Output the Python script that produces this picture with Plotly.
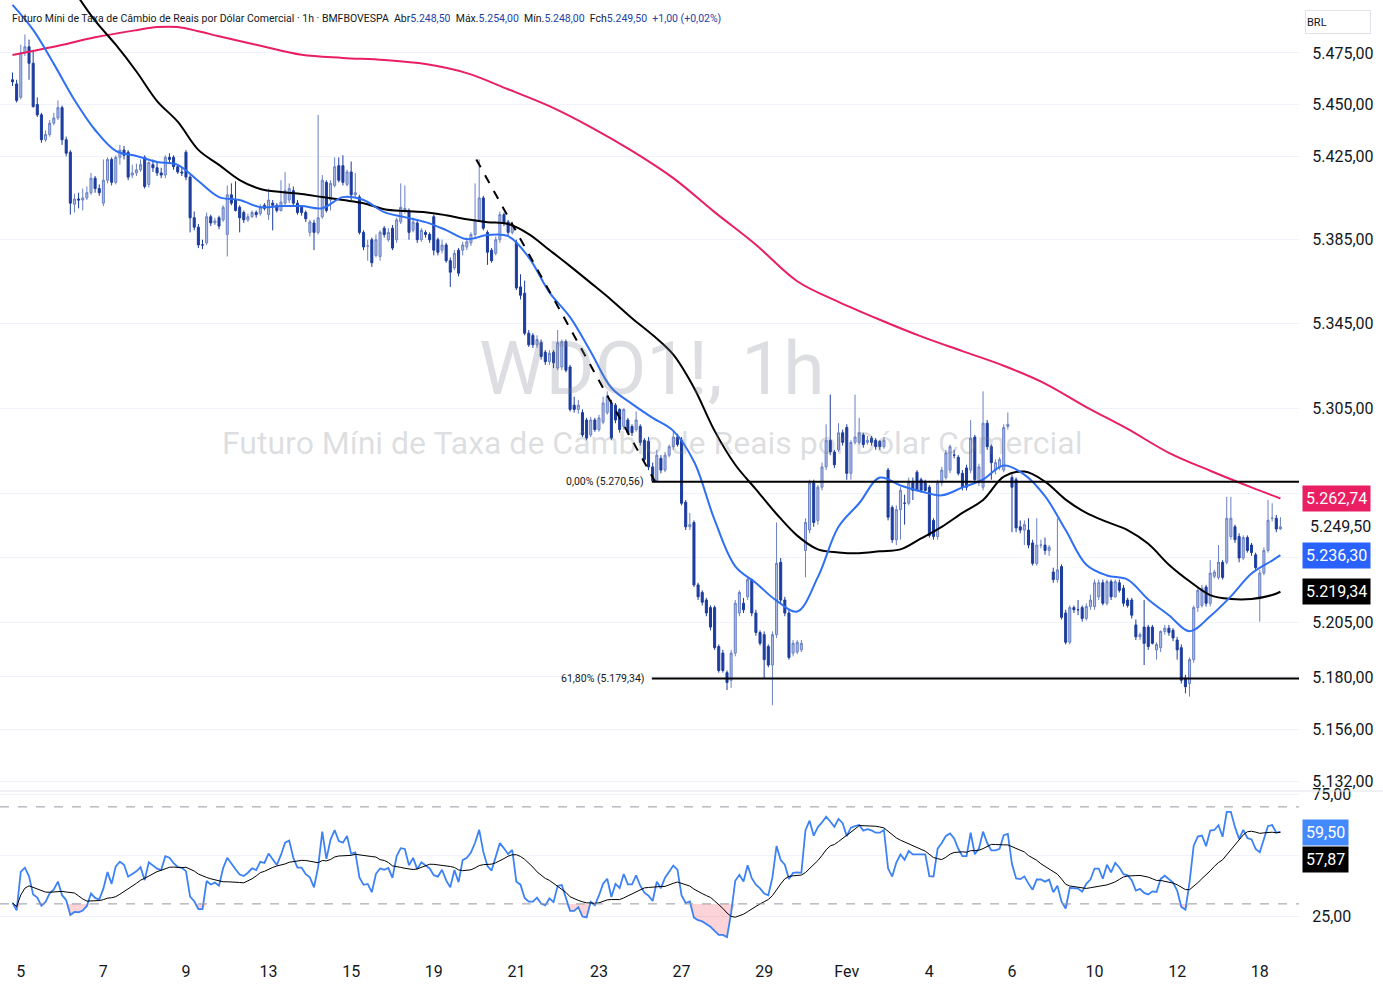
import numpy as np
import pandas as pd
import plotly.graph_objects as go

# ---------------- data (hourly bars, WDO1! 1h) ----------------
OPEN = [
    5462, 5460,
    5453.5, 5475, 5478, 5470, 5450, 5445, 5433, 5435.5, 5441, 5443.5,
    5448.5, 5433, 5427, 5402, 5404.5, 5404, 5405, 5407.5, 5414.5, 5409.5,
    5402.5, 5413.5, 5423.5, 5412.5, 5424.5, 5428, 5427, 5416, 5417, 5418.5,
    5424.5, 5411.5, 5421, 5419.5, 5417, 5416, 5424.5, 5424.5, 5420, 5417.5,
    5427, 5415, 5395.5, 5391, 5382.5, 5383.5, 5396, 5393, 5395.5, 5394.5,
    5387.5, 5406.5, 5404, 5400.5, 5398, 5394.5, 5396, 5398, 5397.5, 5401.5,
    5397, 5402.5, 5401.5, 5399, 5402.5, 5404, 5408.5, 5402.5, 5400.5, 5398,
    5388.5, 5393, 5388.5, 5396, 5412.5, 5404, 5411, 5420.5, 5420.5, 5411.5,
    5417.5, 5406.5, 5405.5, 5388.5, 5382, 5385, 5377.5, 5377, 5390.5, 5385,
    5390.5, 5385, 5393.5, 5398.5, 5399, 5389.5, 5393, 5385, 5388.5, 5387.5,
    5396, 5385, 5380, 5382.5, 5375, 5371.5, 5380, 5380, 5381.5, 5383.5,
    5387.5, 5394.5, 5405, 5388.5, 5380, 5378.5, 5385, 5397, 5393.5, 5388.5,
    5383.5, 5362.5, 5359.5, 5340.5, 5339.5, 5335, 5336, 5331.5, 5327, 5331.5,
    5324, 5324.5, 5336.5, 5324.5, 5306.5, 5304.5, 5303, 5299.5, 5292.5, 5299.5,
    5295, 5298.5, 5303, 5307.5, 5306.5, 5304.5, 5296.5, 5299.5, 5296.5, 5295,
    5296.5, 5290, 5289.5, 5277.5, 5271, 5281.5, 5276, 5283, 5287, 5291.5,
    5290, 5261, 5249.5, 5251.5, 5222.5, 5219, 5215.5, 5212, 5212, 5194,
    5191, 5182, 5178.5, 5191, 5209.5, 5214, 5217, 5225, 5209.5, 5200.5,
    5199.5, 5194, 5185.5, 5199.5, 5233, 5215.5, 5209.5, 5191, 5191.5, 5192.5,
    5238.5, 5248, 5270, 5252.5, 5268, 5277.5, 5290, 5284.5, 5285.5, 5293.5,
    5296, 5274.5, 5289, 5289, 5292.5, 5289, 5291, 5290, 5289.5, 5287,
    5276, 5258.5, 5243.5, 5257.5, 5260.5, 5260.5, 5270, 5275, 5271.5, 5270,
    5268, 5252.5, 5245, 5270, 5272.5, 5276, 5283, 5282, 5274.5, 5277,
    5276, 5291.5, 5270, 5268, 5298, 5287, 5276, 5277.5, 5276, 5296.5,
    5272.5, 5271.5, 5249.5, 5248, 5248, 5242, 5232.5, 5241, 5241, 5238.5,
    5228.5, 5225, 5231, 5209.5, 5196, 5212, 5211, 5212, 5207, 5212.5,
    5212.5, 5217, 5223.5, 5214, 5224, 5217, 5223.5, 5221, 5215.5, 5215.5,
    5204, 5198.5, 5203, 5203, 5203, 5192.5, 5193.5, 5201, 5202.5, 5201.5,
    5197, 5193.5, 5179.5, 5177, 5188, 5212, 5213, 5221.5, 5214, 5226.5,
    5226, 5233, 5233, 5245, 5249.5, 5245, 5235, 5244.5, 5241, 5236.5,
    5217, 5228, 5238.5, 5253.5, 5253.5, 5248.5,
]
HIGH = [
    5465.5, 5462,
    5479, 5484, 5481.5, 5476.5, 5453.5, 5446, 5437.5, 5442.5, 5446, 5452,
    5449.5, 5434.5, 5428, 5407, 5407.5, 5409.5, 5410.5, 5417, 5415.5, 5411.5,
    5423.5, 5424.5, 5424.5, 5425.5, 5430.5, 5430, 5428, 5421, 5421.5, 5423.5,
    5425.5, 5422.5, 5423.5, 5422, 5419.5, 5425.5, 5426.5, 5425.5, 5421, 5419.5,
    5428, 5416, 5398.5, 5392.5, 5385, 5398, 5397, 5395.5, 5396.5, 5401.5,
    5411, 5412, 5413, 5401.5, 5399, 5397.5, 5399, 5399, 5402, 5402.5,
    5409.5, 5404, 5402.5, 5413.5, 5417.5, 5412, 5410.5, 5404, 5401.5, 5399,
    5394.5, 5394.5, 5445, 5416, 5413.5, 5413.5, 5424.5, 5424.5, 5425.5, 5418.5,
    5422.5, 5417, 5406.5, 5389.5, 5385, 5386, 5387.5, 5389.5, 5391.5, 5390.5,
    5392, 5395.5, 5412, 5411, 5400, 5395.5, 5394.5, 5390.5, 5389.5, 5388.5,
    5397, 5386, 5385, 5383.5, 5376.5, 5380, 5381, 5384, 5386, 5388.5,
    5412, 5423.5, 5406, 5389.5, 5381, 5386.5, 5398.5, 5398, 5394.5, 5393.5,
    5385, 5368.5, 5365.5, 5342, 5340.5, 5339.5, 5337.5, 5332.5, 5332.5, 5332.5,
    5342, 5337.5, 5337.5, 5325.5, 5310.5, 5309, 5304.5, 5300.5, 5301, 5300.5,
    5302, 5310.5, 5313, 5309, 5307.5, 5305, 5305, 5300.5, 5297.5, 5303.5,
    5297.5, 5291, 5291.5, 5279.5, 5285.5, 5283, 5284.5, 5288, 5294, 5293,
    5291.5, 5262, 5256, 5252.5, 5223.5, 5220, 5216.5, 5213, 5213, 5195,
    5192.5, 5183, 5192.5, 5215.5, 5220, 5216.5, 5226, 5225.5, 5211, 5201.5,
    5201, 5195, 5201, 5251.5, 5235, 5217, 5211, 5197, 5197, 5197,
    5253.5, 5271.5, 5271.5, 5269, 5279.5, 5297.5, 5311.5, 5285.5, 5298, 5295,
    5297.5, 5290, 5311.5, 5300.5, 5293.5, 5292, 5292, 5291, 5290, 5291.5,
    5277, 5259.5, 5259.5, 5268, 5264.5, 5272.5, 5272.5, 5276, 5272.5, 5271.5,
    5269, 5253.5, 5271.5, 5277.5, 5285.5, 5288, 5285.5, 5283, 5276, 5278.5,
    5299.5, 5292.5, 5279, 5313, 5299.5, 5288, 5281, 5282, 5297.5, 5303,
    5274, 5272.5, 5252.5, 5252.5, 5253.5, 5243.5, 5253.5, 5243.5, 5244.5, 5241,
    5230.5, 5253.5, 5232, 5211, 5213, 5213, 5215.5, 5213, 5214, 5218,
    5225, 5225, 5225, 5225, 5225, 5225, 5225, 5222.5, 5216.5, 5216.5,
    5206.5, 5200.5, 5215.5, 5204, 5204, 5196, 5201.5, 5204, 5204, 5202.5,
    5198.5, 5195, 5181, 5189, 5213, 5221, 5222.5, 5222.5, 5234, 5229.5,
    5241, 5234, 5263.5, 5263.5, 5250.5, 5246.5, 5245.5, 5245.5, 5242, 5237.5,
    5229.5, 5240, 5262, 5260.5, 5255, 5254,
]
LOW = [
    5459, 5451,
    5452.5, 5473.5, 5462, 5448.5, 5444, 5431.5, 5432, 5434.5, 5440, 5442.5,
    5430.5, 5425, 5397, 5398, 5400, 5399, 5404, 5406.5, 5407.5, 5406,
    5401, 5412, 5411, 5411.5, 5421, 5423.5, 5413.5, 5414.5, 5415.5, 5417.5,
    5409.5, 5410, 5417.5, 5415.5, 5414.5, 5414.5, 5421.5, 5418.5, 5416.5, 5415.5,
    5413.5, 5388.5, 5389.5, 5381, 5380.5, 5382.5, 5391.5, 5392, 5390, 5393.5,
    5377, 5401.5, 5398.5, 5388.5, 5393, 5393.5, 5395.5, 5395.5, 5396.5, 5399,
    5394.5, 5389.5, 5398, 5398.5, 5401.5, 5402.5, 5401.5, 5397, 5396.5, 5393.5,
    5386.5, 5380, 5387.5, 5395, 5398, 5399, 5410, 5412.5, 5411, 5410.5,
    5404, 5405, 5387.5, 5380, 5375, 5372, 5376.5, 5375, 5386, 5384,
    5380, 5383.5, 5392.5, 5397.5, 5385, 5388.5, 5383.5, 5384, 5386, 5383.5,
    5377.5, 5377.5, 5378.5, 5374, 5362.5, 5370.5, 5367.5, 5377.5, 5380, 5382,
    5386, 5393.5, 5389.5, 5373, 5374, 5377.5, 5383.5, 5391.5, 5387, 5387.5,
    5361, 5356.5, 5339.5, 5334, 5333.5, 5333.5, 5328, 5325.5, 5325.5, 5324,
    5323, 5323, 5322, 5303.5, 5303, 5302.5, 5291.5, 5290, 5291.5, 5294,
    5294, 5297.5, 5302, 5290, 5298, 5293.5, 5295, 5292.5, 5292, 5294,
    5287.5, 5279.5, 5276, 5270.5, 5270.5, 5274.5, 5275, 5282, 5285.5, 5287,
    5259.5, 5248, 5248, 5221.5, 5215.5, 5213, 5208, 5201.5, 5192.5, 5182,
    5182, 5174, 5175, 5189.5, 5208, 5209.5, 5215.5, 5208, 5199, 5194.5,
    5179.5, 5184.5, 5167, 5198, 5214, 5208, 5188, 5189.5, 5190.5, 5191.5,
    5226, 5246.5, 5249.5, 5250.5, 5266.5, 5276, 5283, 5277, 5284.5, 5287.5,
    5271.5, 5271.5, 5288, 5288, 5286.5, 5288, 5287.5, 5285.5, 5285.5, 5286,
    5252.5, 5242, 5241, 5243.5, 5250.5, 5259.5, 5262, 5266, 5265.5, 5266,
    5244.5, 5243.5, 5243.5, 5268.5, 5271.5, 5274.5, 5281.5, 5273.5, 5266.5, 5266.5,
    5274.5, 5270, 5268.5, 5266.5, 5285.5, 5271.5, 5274, 5276, 5275, 5295,
    5247, 5247, 5246.5, 5241, 5239.5, 5231.5, 5231.5, 5239.5, 5236.5, 5236,
    5223.5, 5223.5, 5206.5, 5195, 5195, 5209.5, 5208.5, 5205.5, 5206, 5211,
    5211, 5215.5, 5213, 5213, 5215.5, 5216.5, 5219, 5212.5, 5212, 5207,
    5197, 5197, 5185.5, 5192.5, 5195, 5188, 5191.5, 5199.5, 5199, 5196.5,
    5188, 5177, 5172.5, 5171, 5186.5, 5210, 5212, 5212.5, 5212.5, 5225.5,
    5225, 5225, 5232, 5243.5, 5242, 5233, 5234, 5237.5, 5236, 5229.5,
    5205.5, 5227, 5237.5, 5252, 5247, 5248,
]
CLOSE = [
    5461, 5452,
    5475, 5478, 5470, 5449, 5445, 5433, 5435.5, 5441, 5443.5, 5448.5,
    5433, 5426.5, 5402.5, 5404.5, 5404, 5405, 5407.5, 5414.5, 5409.5, 5407.5,
    5413.5, 5423.5, 5412.5, 5424.5, 5428, 5425.5, 5415, 5417, 5418.5, 5421,
    5410.5, 5422, 5419.5, 5417, 5416, 5424.5, 5423.5, 5420, 5417.5, 5417,
    5415, 5395.5, 5391, 5382.5, 5382.5, 5396, 5393, 5394, 5391.5, 5400.5,
    5406.5, 5402.5, 5399, 5395.5, 5394.5, 5396, 5398, 5397, 5400.5, 5400,
    5404, 5401.5, 5399, 5403, 5408.5, 5409.5, 5402.5, 5398, 5398, 5395,
    5393.5, 5388.5, 5395.5, 5413.5, 5399, 5412, 5420, 5413.5, 5412.5, 5417.5,
    5406.5, 5407.5, 5388.5, 5381.5, 5382, 5374, 5385, 5388.5, 5387.5, 5388.5,
    5381, 5394.5, 5400.5, 5400, 5388.5, 5393.5, 5385, 5389.5, 5387.5, 5385,
    5380, 5379, 5382.5, 5375, 5369.5, 5378.5, 5369, 5382.5, 5384, 5387.5,
    5394.5, 5405, 5390.5, 5379, 5375, 5385, 5397, 5393, 5388.5, 5392,
    5362, 5358.5, 5340.5, 5335, 5335, 5337.5, 5329.5, 5327, 5331, 5326.5,
    5336, 5336.5, 5323, 5304.5, 5304.5, 5306.5, 5292.5, 5291, 5299.5, 5295,
    5300.5, 5307.5, 5310.5, 5291, 5299.5, 5295, 5304.5, 5293.5, 5293.5, 5299.5,
    5289, 5281, 5277.5, 5271, 5283, 5276, 5283, 5287, 5291.5, 5288,
    5260.5, 5249.5, 5250.5, 5222.5, 5217, 5214.5, 5209.5, 5203, 5193.5, 5183,
    5183, 5177.5, 5191, 5214, 5219, 5211, 5225, 5209.5, 5200.5, 5195.5,
    5188, 5185.5, 5199.5, 5232.5, 5215.5, 5209.5, 5189, 5195.5, 5196, 5195.5,
    5251.5, 5270, 5251.5, 5268, 5277.5, 5290, 5284.5, 5278.5, 5293.5, 5289,
    5274.5, 5289, 5291.5, 5293.5, 5288, 5290, 5289, 5287, 5287, 5290,
    5254, 5243.5, 5257.5, 5266.5, 5260.5, 5270, 5266.5, 5266.5, 5266.5, 5266.5,
    5245.5, 5245, 5270, 5276, 5284, 5287, 5283, 5274.5, 5268, 5268,
    5291, 5271.5, 5277.5, 5298, 5287, 5279.5, 5279.5, 5281, 5296, 5297.5,
    5268, 5249, 5248, 5250.5, 5241, 5232.5, 5241, 5241, 5238.5, 5240,
    5225, 5229.5, 5207.5, 5196, 5212, 5211, 5211, 5207, 5212.5, 5215.5,
    5223.5, 5223.5, 5214, 5224, 5217, 5224, 5220, 5214, 5213, 5208.5,
    5198.5, 5199.5, 5195.5, 5194, 5195.5, 5195, 5201, 5202.5, 5200.5, 5198,
    5192.5, 5178.5, 5175.5, 5188, 5212, 5220, 5221, 5214, 5228, 5228.5,
    5233, 5226, 5253.5, 5253.5, 5243.5, 5235, 5244.5, 5238.5, 5237.5, 5230.5,
    5228, 5238.5, 5252.5, 5253.5, 5248.5, 5249.5,
]
assert len(OPEN) == len(HIGH) == len(LOW) == len(CLOSE) == 308

DAY_TICK_IDX = [2, 22, 42, 62, 82, 102, 122, 142, 162, 182, 202, 222, 242, 262, 282, 302]
DAY_TICK_TEXT = ["5", "7", "9", "13", "15", "19", "21", "23", "27", "29", "Fev",
                 "4", "6", "10", "12", "18"]

# moving averages (bar index -> value)
BLUE_IDX = list(range(0, 306, 5)) + [307]
BLUE_VAL = [5498.4, 5486.2, 5469.7, 5452.2, 5437.7, 5427.6, 5425.2, 5422.3, 5420.9, 5413.1,
            5405.4, 5404.0, 5400.6, 5401.1, 5401.1, 5400.1, 5405.4, 5404.0, 5398.2, 5395.8,
            5393.4, 5389.6, 5385.3, 5387.2, 5386.7, 5376.6, 5359.9, 5348.1, 5331.7, 5314.7,
            5307.1, 5300.5, 5294.4, 5280.0, 5252.7, 5231.1, 5223.4, 5215.2, 5210.2, 5226.1,
            5249.5, 5260.5, 5272.5, 5268.8, 5266.0, 5264.2, 5267.9, 5271.6, 5278.1, 5273.9,
            5263.8, 5248.0, 5231.9, 5226.9, 5225.0, 5215.8, 5208.5, 5201.1, 5208.0, 5217.2,
            5227.8, 5233.8, 5236.3]
BLACK_IDX = [15] + list(range(20, 306, 5)) + [307]
BLACK_VAL = [5505.0, 5490.7, 5479.0, 5466.0, 5451.7, 5441.7, 5428.1, 5420.9, 5413.6, 5409.3,
             5407.8, 5406.9, 5405.4, 5404.0, 5402.5, 5399.6, 5398.7, 5398.2, 5396.7, 5394.8,
             5393.4, 5392.5, 5387.7, 5380.1, 5372.4, 5364.4, 5356.3, 5347.6, 5339.6, 5330.3,
             5314.7, 5294.4, 5278.5, 5267.0, 5255.5, 5245.4, 5239.0, 5237.6, 5237.2, 5238.1,
             5239.0, 5244.1, 5249.5, 5256.0, 5262.0, 5272.9, 5275.3, 5270.6, 5262.2, 5256.0,
             5251.8, 5248.0, 5241.6, 5231.9, 5224.2, 5217.8, 5216.0, 5216.0, 5217.8, 5219.34]
PINK_IDX = [0, 10, 20, 30, 35, 40, 45, 50, 60, 70, 80, 90, 100, 110, 120, 130, 140, 150, 160,
            170, 180, 190, 200, 210, 220, 230, 240, 250, 260, 270, 280, 290, 300, 307]
PINK_VAL = [5474.0, 5478.0, 5482.6, 5486.1, 5487.6, 5487.6, 5485.6, 5483.1, 5478.5, 5474.1,
            5472.6, 5471.6, 5469.6, 5465.2, 5457.4, 5449.2, 5439.1, 5427.6, 5414.5, 5398.2,
            5382.6, 5365.2, 5355.4, 5346.9, 5339.0, 5332.0, 5325.1, 5316.7, 5305.6, 5295.3,
            5284.1, 5275.7, 5267.9, 5262.74]

TREND_IDX = [112.3, 155.6]
TREND_VAL = [5423.5, 5270.56]
FIB_START_IDX = 154.8
FIB_LEVELS = [5270.56, 5179.34]
FIB_LABELS = ["0,00% (5.270,56)", "61,80% (5.179,34)"]

PRICE_TICKS = [5475, 5450, 5425, 5385, 5345, 5305, 5265, 5235, 5205, 5180, 5156, 5132]
PRICE_TICK_TEXT = ["5.475,00", "5.450,00", "5.425,00", "5.385,00", "5.345,00", "5.305,00",
                   "", "", "5.205,00", "5.180,00", "5.156,00", "5.132,00"]
RSI_TICKS = [25, 50, 75]
RSI_TICK_TEXT = ["25,00", "", "75,00"]

PINK_LAST, LAST_PRICE, BLUE_LAST, BLACK_LAST = 5262.74, 5249.50, 5236.30, 5219.34
RSI_LAST, RSI_MA_LAST = 59.50, 57.87
RSI_LEN, RSI_MA_LEN = 14, 14
RSI_SEED_GAIN, RSI_SEED_LOSS = 2.0, 4.5   # state carried in from before the visible window

# ---------------- derived indicator ----------------
c = np.array(CLOSE, float)
prev = OPEN[0]
ag, al = RSI_SEED_GAIN, RSI_SEED_LOSS
rsi = []
for v in c:
    d = v - prev
    prev = v
    ag = (ag * (RSI_LEN - 1) + max(d, 0)) / RSI_LEN
    al = (al * (RSI_LEN - 1) + max(-d, 0)) / RSI_LEN
    rsi.append(100 - 100 / (1 + ag / al))
rsi = np.array(rsi)
rsi_ma = pd.Series(rsi).rolling(RSI_MA_LEN, min_periods=1).mean().values
idx = np.arange(len(CLOSE))

# ---------------- figure ----------------
W, H = 1383, 995
PLOT_W = 1299
PLOT_H = 955
X0 = -3.03
X1 = X0 + PLOT_W / 4.13
FONT = "Roboto, sans-serif"
BLUE = "#2f6ff3"
PINK = "#e91e63"

fig = go.Figure()

fig.add_trace(go.Candlestick(
    x=idx, open=OPEN, high=HIGH, low=LOW, close=CLOSE,
    increasing=dict(line=dict(color="#6a80c4", width=1), fillcolor="#aebde6"),
    decreasing=dict(line=dict(color="#1c3c9e", width=1), fillcolor="#1c3c9e"),
    whiskerwidth=0, xaxis="x", yaxis="y", hoverinfo="skip", showlegend=False))

fig.add_trace(go.Scatter(x=PINK_IDX, y=PINK_VAL, mode="lines", line=dict(color=PINK, width=2, shape="spline"),
                         xaxis="x", yaxis="y", hoverinfo="skip", showlegend=False))
fig.add_trace(go.Scatter(x=BLACK_IDX, y=BLACK_VAL, mode="lines", line=dict(color="#000000", width=2, shape="spline"),
                         xaxis="x", yaxis="y", hoverinfo="skip", showlegend=False))
fig.add_trace(go.Scatter(x=BLUE_IDX, y=BLUE_VAL, mode="lines", line=dict(color=BLUE, width=2, shape="spline"),
                         xaxis="x", yaxis="y", hoverinfo="skip", showlegend=False))

# trend line and fibonacci levels
fig.add_trace(go.Scatter(x=TREND_IDX, y=TREND_VAL, mode="lines", line=dict(color="#000000", width=2, dash="dash"),
                         xaxis="x", yaxis="y", hoverinfo="skip", showlegend=False))
for lvl in FIB_LEVELS:
    fig.add_trace(go.Scatter(x=[FIB_START_IDX, X1], y=[lvl, lvl], mode="lines",
                             line=dict(color="#000000", width=2), xaxis="x", yaxis="y",
                             hoverinfo="skip", showlegend=False))

# RSI pane
fig.add_trace(go.Scatter(x=idx, y=np.full(len(idx), 30.0), mode="lines", line=dict(width=0),
                         xaxis="x2", yaxis="y2", hoverinfo="skip", showlegend=False))
fig.add_trace(go.Scatter(x=idx, y=np.minimum(rsi, 30), mode="lines", line=dict(width=0), fill="tonexty",
                         fillcolor="rgba(242,54,69,0.22)", xaxis="x2", yaxis="y2", hoverinfo="skip", showlegend=False))
fig.add_trace(go.Scatter(x=idx, y=np.full(len(idx), 70.0), mode="lines", line=dict(width=0),
                         xaxis="x2", yaxis="y2", hoverinfo="skip", showlegend=False))
fig.add_trace(go.Scatter(x=idx, y=np.maximum(rsi, 70), mode="lines", line=dict(width=0), fill="tonexty",
                         fillcolor="rgba(8,153,129,0.2)", xaxis="x2", yaxis="y2", hoverinfo="skip", showlegend=False))
fig.add_trace(go.Scatter(x=idx, y=rsi, mode="lines", line=dict(color="#3d82f4", width=1.8),
                         xaxis="x2", yaxis="y2", hoverinfo="skip", showlegend=False))
fig.add_trace(go.Scatter(x=idx, y=rsi_ma, mode="lines", line=dict(color="#000000", width=1),
                         xaxis="x2", yaxis="y2", hoverinfo="skip", showlegend=False))

main_dom = [1 - 790 / PLOT_H, 1]
rsi_dom = [0, 1 - 792 / PLOT_H]
y_lo, y_hi = 5128.3, 5500.8

fig.update_layout(
    template="none",
    width=W, height=H,
    margin=dict(l=0, r=W - PLOT_W, t=0, b=H - PLOT_H, pad=0, autoexpand=False),
    paper_bgcolor="white", plot_bgcolor="white",
    hovermode=False, showlegend=False,
    xaxis=dict(domain=[0, 1], range=[X0, X1], anchor="y", showgrid=False, zeroline=False, showline=False,
               showticklabels=False, ticks="", rangeslider=dict(visible=False), fixedrange=True,
               automargin=False),
    xaxis2=dict(domain=[0, 1], range=[X0, X1], anchor="y2", matches="x", showgrid=False, zeroline=False,
                showline=False, automargin=False,
                tickmode="array", tickvals=DAY_TICK_IDX, ticktext=DAY_TICK_TEXT,
                ticks="outside", ticklen=2, tickcolor="rgba(0,0,0,0)",
                tickfont=dict(family=FONT, size=16, color="#131722")),
    yaxis=dict(domain=main_dom, type="log", range=[np.log10(y_lo), np.log10(y_hi)], side="right",
               anchor="x", tickmode="array", tickvals=PRICE_TICKS, ticktext=PRICE_TICK_TEXT,
               showgrid=True, gridcolor="#f0f3fa", gridwidth=1, zeroline=False, showline=False,
               automargin=False,
               ticks="outside", ticklen=9, tickcolor="rgba(0,0,0,0)",
               tickfont=dict(family=FONT, size=16, color="#131722")),
    yaxis2=dict(domain=rsi_dom, range=[8.92, 76.13], side="right", anchor="x2",
                tickmode="array", tickvals=RSI_TICKS, ticktext=RSI_TICK_TEXT,
                showgrid=True, gridcolor="#f0f3fa", gridwidth=1, zeroline=False, showline=False,
                automargin=False,
                ticks="outside", ticklen=9, tickcolor="rgba(0,0,0,0)",
                tickfont=dict(family=FONT, size=16, color="#131722")),
)

shapes = []
for lvl in (70, 30):
    shapes.append(dict(type="line", xref="paper", yref="y2", x0=0, x1=1, y0=lvl, y1=lvl,
                       line=dict(color="#9598a1", width=1, dash="dash")))
shapes.append(dict(type="line", xref="paper", yref="paper", x0=0, x1=W / PLOT_W,
                   y0=1 - 791 / PLOT_H, y1=1 - 791 / PLOT_H, line=dict(color="#e0e3eb", width=1)))
fig.update_layout(shapes=shapes)

ann = []
# watermark
ann.append(dict(text="WDO1!, 1h", xref="paper", yref="paper", x=652 / PLOT_W, y=1 - 368 / PLOT_H,
                showarrow=False, font=dict(family=FONT, size=75, color="rgba(120,123,134,0.25)"),
                xanchor="center", yanchor="middle"))
ann.append(dict(text="Futuro Míni de Taxa de Câmbio de Reais por Dólar Comercial", xref="paper", yref="paper",
                x=652 / PLOT_W, y=1 - 443 / PLOT_H, showarrow=False,
                font=dict(family=FONT, size=32, color="rgba(120,123,134,0.25)"),
                xanchor="center", yanchor="middle"))
# legend line
vb = "#2440a8"
title = ("Futuro Míni de Taxa de Câmbio de Reais por Dólar Comercial · 1h · BMFBOVESPA  "
         f"Abr<span style='color:{vb}'>5.248,50</span>  Máx.<span style='color:{vb}'>5.254,00</span>  "
         f"Mín.<span style='color:{vb}'>5.248,00</span>  Fch<span style='color:{vb}'>5.249,50</span>  "
         f"<span style='color:{vb}'>+1,00 (+0,02%)</span>")
ann.append(dict(text=title, xref="paper", yref="paper", x=10 / PLOT_W, y=1 - 19 / PLOT_H, showarrow=False,
                xanchor="left", yanchor="middle", font=dict(family=FONT, size=10.5, color="#131722")))
# fib labels
for lvl, txt in zip(FIB_LEVELS, FIB_LABELS):
    ann.append(dict(text=txt, xref="x", yref="y", x=FIB_START_IDX - 1.5, y=np.log10(lvl), showarrow=False,
                    xanchor="right", yanchor="middle", font=dict(family=FONT, size=10.5, color="#131722")))
# price scale labels
def plab(val, txt, bg, yref="y", fc="white", yshift=0):
    yv = np.log10(val) if yref == "y" else val
    d = dict(text=txt, xref="paper", yref=yref, x=1302 / PLOT_W, y=yv, showarrow=False, yshift=yshift,
             xanchor="left", yanchor="middle", font=dict(family=FONT, size=16, color=fc), borderpad=3)
    if bg:
        d["bgcolor"] = bg
    return d
ann.append(plab(PINK_LAST, "5.262,74", PINK))
ann.append(plab(LAST_PRICE, " 5.249,50", None, fc="#131722"))
ann.append(plab(BLUE_LAST, "5.236,30", "#2962ff"))
ann.append(plab(BLACK_LAST, "5.219,34", "#000000"))
ann.append(plab(RSI_LAST, "59,50", "#448aff", yref="y2"))
ann.append(plab(RSI_MA_LAST, "57,87", "#000000", yref="y2", yshift=-23))
ann.append(dict(text="BRL", xref="paper", yref="paper", x=1305 / PLOT_W, y=1 - 22 / PLOT_H, showarrow=False,
                xanchor="left", yanchor="middle", width=62, height=20, align="left",
                bordercolor="#e0e3eb", borderwidth=1, borderpad=1,
                font=dict(family=FONT, size=11, color="#131722")))
fig.update_layout(annotations=ann)

fig.write_html("out.html", config={"displayModeBar": False})
